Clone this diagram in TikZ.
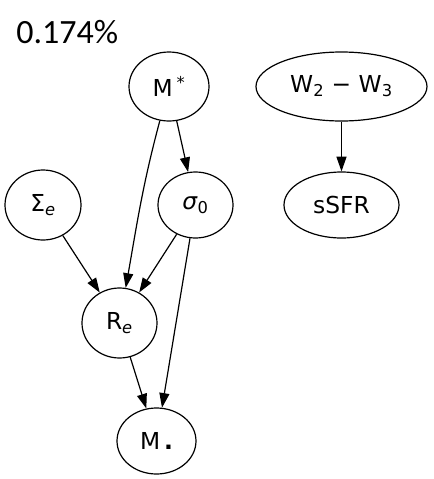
\documentclass[tikz,border=0pt]{standalone}
\usepackage{fontspec}
\setmainfont{DejaVu Sans}
\newfontfamily\titlefont{Carlito}
\usetikzlibrary{shapes.geometric,arrows.meta}

\begin{document}
\begin{tikzpicture}[x=0.75pt,y=-0.75pt,
    var/.style={draw,ellipse,line width=0.9pt,inner sep=0pt,font=\fontsize{17.5}{20}\selectfont},
    link/.style={line width=0.9pt,-{Triangle[length=11pt,width=7.5pt]}}]

                \useasboundingbox (0,0) rectangle (433,479);
                \node[anchor=base west,inner sep=0pt,font=\titlefont\fontsize{25.5}{28}\selectfont] (score) at (16,43.5) {0.174\%};

                \node[var,minimum width=80pt*0.75,minimum height=69pt*0.75]  (mstar) at (169,86.5)  {M\,\textsuperscript{*}};
                \node[var,minimum width=171pt*0.75,minimum height=69pt*0.75] (wdiff) at (341.5,86.5) {W\textsubscript{2} − W\textsubscript{3}};
                \node[var,minimum width=76pt*0.75,minimum height=70pt*0.75]  (sige)  at (43,205)    {Σ\textsubscript{\textit{e}}};
                \node[var,minimum width=75pt*0.75,minimum height=66pt*0.75]  (sig0)  at (195.5,205) {\textit{σ}\textsubscript{0}};
                \node[var,minimum width=115pt*0.75,minimum height=66pt*0.75] (ssfr)  at (341.5,205) {sSFR};
                \node[var,minimum width=75pt*0.75,minimum height=70pt*0.75]  (reff)  at (119.5,323) {R\textsubscript{\textit{e}}};
                \node[var,minimum width=79pt*0.75,minimum height=66pt*0.75]  (mbh)   at (156.5,441) {M\,\textbf{.}};

                \draw[link] (mstar) to[out=-105,in=80] (reff);
                \draw[link] (mstar) -- (sig0);
                \draw[link] (wdiff) -- (ssfr);
                \draw[link] (sige) -- (reff);
                \draw[link] (sig0) -- (reff);
                \draw[link] (sig0) -- (mbh);
                \draw[link] (reff) -- (mbh);
            \end{tikzpicture}
\end{document}
